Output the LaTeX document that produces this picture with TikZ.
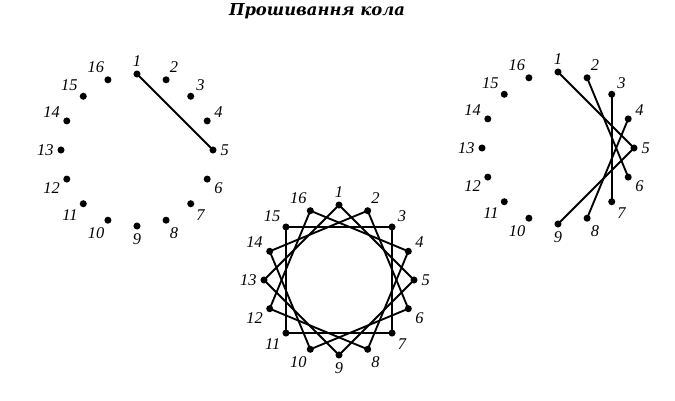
\documentclass[tikz,border=0pt]{standalone}
\usepackage{fontspec}
\setmainfont{Liberation Serif}
\newfontfamily\titlefont{DejaVu Serif}
\begin{document}
\begin{tikzpicture}[x=0.03cm,y=-0.03cm,
  dot/.style={circle,fill,inner sep=0pt,minimum size=6pt},
  num/.style={font=\fontsize{14}{14}\selectfont\itshape,label distance=2pt,inner sep=1pt},
  thread/.style={line width=1.6pt}]
\useasboundingbox (0,0) rectangle (675,401);
\node[font=\titlefont\fontsize{14}{14}\selectfont\bfseries\itshape] (title) at (317,11) {Прошивання кола};
% left circle
\foreach \i in {1,...,16}{
  \pgfmathsetmacro\a{90-(\i-1)*22.5}
  \node[dot,label={[num]\a:\i}] (L\i) at ({137+76*cos(\a)},{150-76*sin(\a)}) {};
}
\draw[thread] (L1.center) -- (L5.center);
% middle circle
\foreach \i in {1,...,16}{
  \pgfmathsetmacro\a{90-(\i-1)*22.5}
  \node[dot,label={[num]\a:\i}] (M\i) at ({339+75*cos(\a)},{280-75*sin(\a)}) {};
}
\foreach \i in {1,...,16}{
  \pgfmathtruncatemacro\j{mod(\i+3,16)+1}
  \draw[thread] (M\i.center) -- (M\j.center);
}
% right circle
\foreach \i in {1,...,16}{
  \pgfmathsetmacro\a{90-(\i-1)*22.5}
  \node[dot,label={[num]\a:\i}] (R\i) at ({558+76*cos(\a)},{148-76*sin(\a)}) {};
}
\foreach \i in {1,...,5}{
  \pgfmathtruncatemacro\j{\i+4}
  \draw[thread] (R\i.center) -- (R\j.center);
}
\end{tikzpicture}
\end{document}
